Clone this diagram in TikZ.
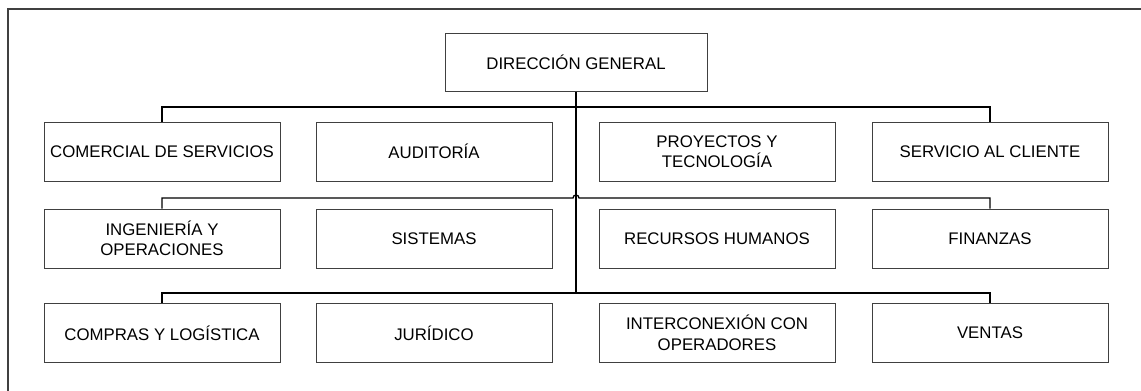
\documentclass[tikz,border=0pt]{standalone}
\usepackage{fontspec}
\setmainfont{Liberation Sans}
\begin{document}
\begin{tikzpicture}[x=1pt,y=-1pt,
  box/.style={draw=black!75, line width=1pt, fill=white, minimum width=236pt, minimum height=59pt, inner sep=0pt, align=center, font=\fontsize{16.8}{20.5}\selectfont},
  link/.style={draw=black, line width=1.3pt},
  trunk/.style={draw=black, line width=2pt}]
\useasboundingbox (0,0) rectangle (1141,391);
\draw[black!75, line width=1.5pt] (8,395) -- (8,9) -- (1145,9);
% top
\node[box, minimum width=262pt, minimum height=58pt] (top) at (576,62) {DIRECCIÓN GENERAL};
% row 1
\node[box] (c11) at (162,151.5) {COMERCIAL DE SERVICIOS};
\node[box] (c12) at (434,151.5) {AUDITORÍA};
\node[box] (c13) at (717,151.5) {PROYECTOS Y\\TECNOLOGÍA};
\node[box] (c14) at (990,151.5) {SERVICIO AL CLIENTE};
% row 2
\node[box] (c21) at (162,238.5) {INGENIERÍA Y\\OPERACIONES};
\node[box] (c22) at (434,238.5) {SISTEMAS};
\node[box] (c23) at (717,238.5) {RECURSOS HUMANOS};
\node[box] (c24) at (990,238.5) {FINANZAS};
% row 3
\node[box] (c31) at (162,333) {COMPRAS Y LOGÍSTICA};
\node[box] (c32) at (434,333) {JURÍDICO};
\node[box] (c33) at (717,333) {INTERCONEXIÓN CON\\OPERADORES};
\node[box] (c34) at (990,333) {VENTAS};
% bus coordinates
\coordinate (b1) at (576,107);
\coordinate (hopL) at (573,198);
\coordinate (b3) at (576,293);
% row 1 bus
\draw[link] (c11.north) |- (b1) -| (c14.north);
% row 2 bus with hop
\draw[link] (c21.north) |- (hopL) arc(180:360:3) -| (c24.north);
% row 3 bus
\draw[link] (c31.north) |- (b3) -| (c34.north);
% trunk
\draw[trunk] (top.south) -- (b3);
\end{tikzpicture}
\end{document}
